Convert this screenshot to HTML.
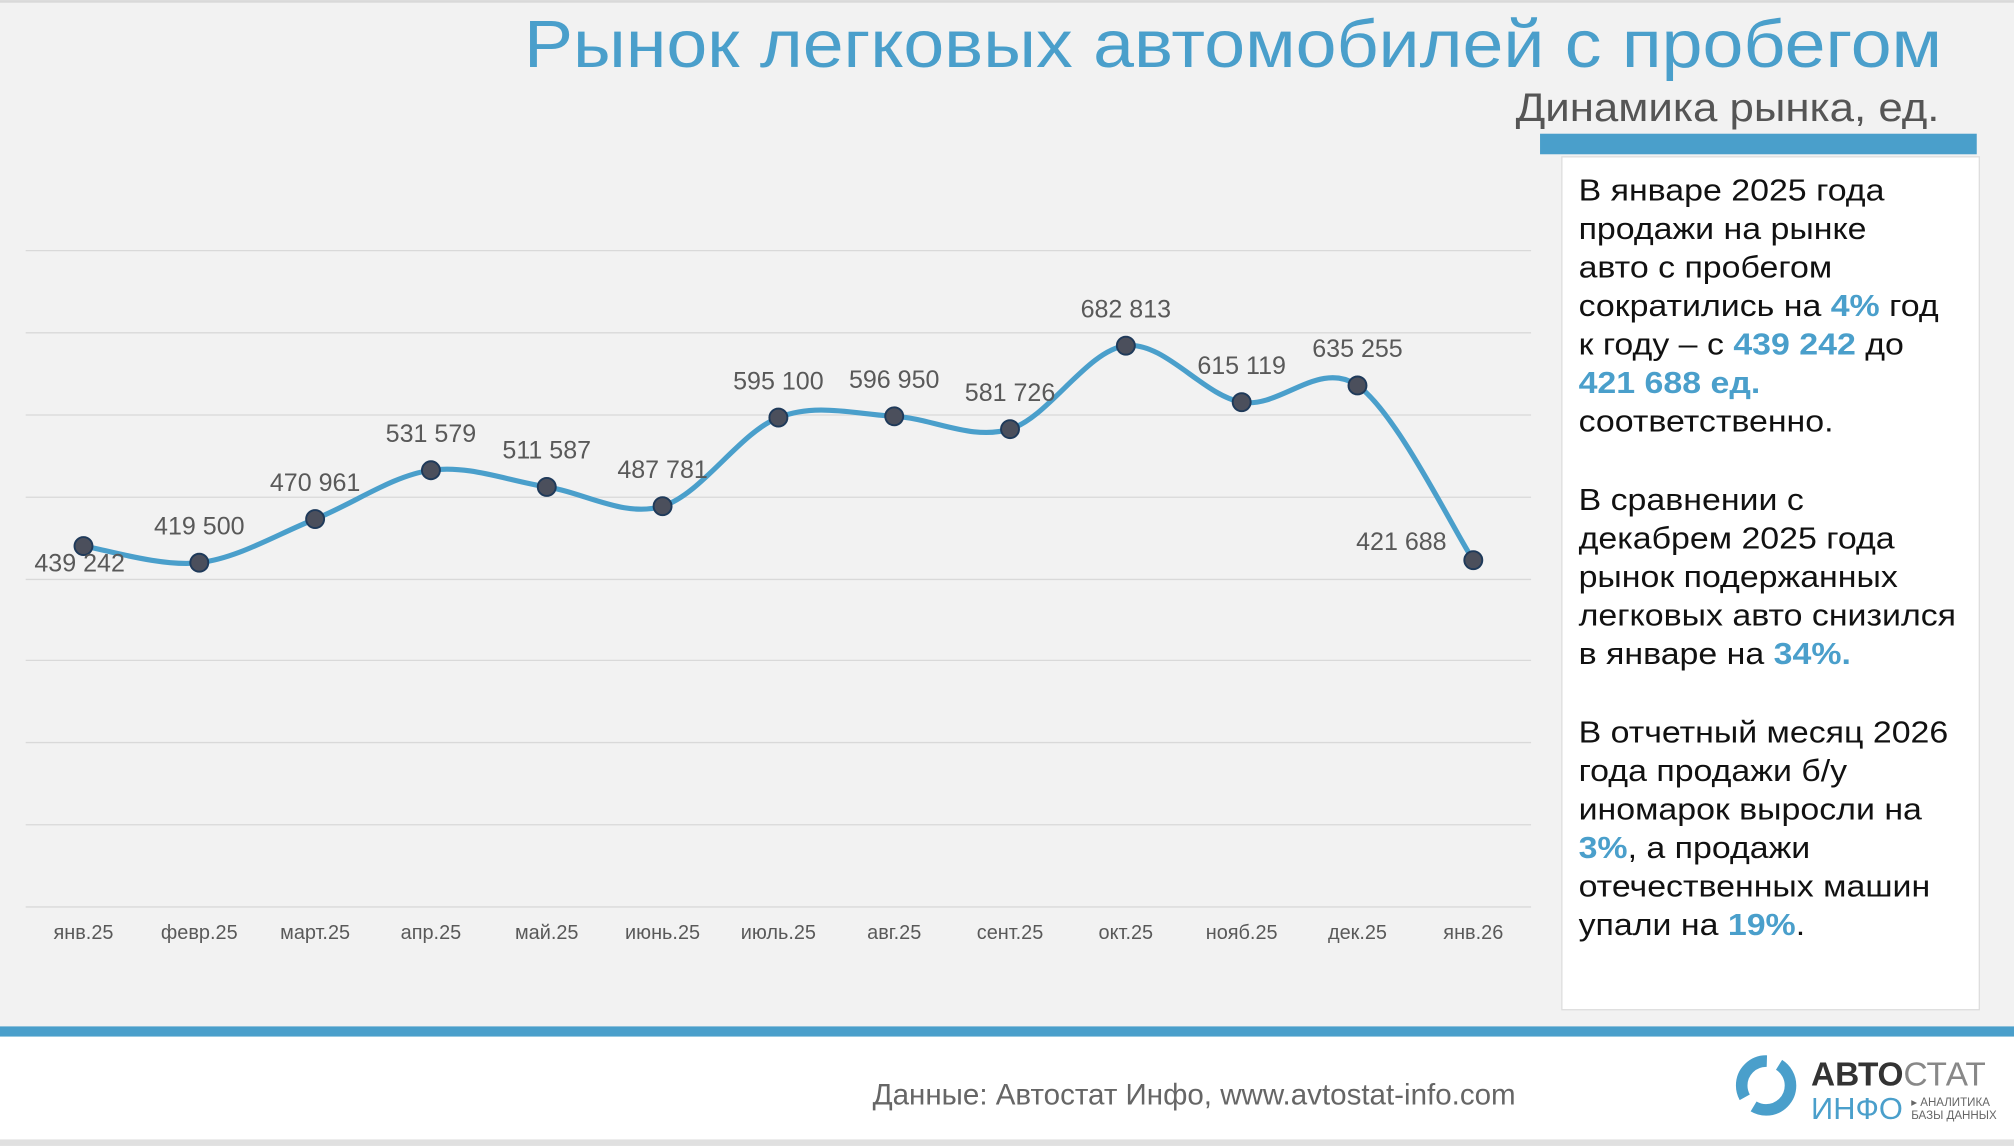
<!DOCTYPE html>
<html><head><meta charset="utf-8"><style>
html,body{margin:0;padding:0;background:#f2f2f2}
svg{display:block}
text{font-family:"Liberation Sans","DejaVu Sans",sans-serif}
</style></head><body>
<svg id="s" width="2014" height="1146" viewBox="0 0 1568 892" xmlns="http://www.w3.org/2000/svg">
<rect width="1568" height="892" fill="#f2f2f2"/>
<rect width="1568" height="2" fill="#d9d9d9"/>
<text x="1512" y="52" text-anchor="end" font-size="52" fill="#4a9fcb" textLength="1104" lengthAdjust="spacingAndGlyphs">Рынок легковых автомобилей с пробегом</text>
<text x="1510" y="94" text-anchor="end" font-size="31" fill="#555" textLength="330" lengthAdjust="spacingAndGlyphs">Динамика рынка, ед.</text>
<rect x="1199" y="104" width="340" height="16" fill="#4a9fcb"/>
<g stroke="#d9d9d9" stroke-width="1">
<line x1="20" x2="1192" y1="195" y2="195"/><line x1="20" x2="1192" y1="259" y2="259"/>
<line x1="20" x2="1192" y1="323" y2="323"/><line x1="20" x2="1192" y1="387" y2="387"/>
<line x1="20" x2="1192" y1="451" y2="451"/><line x1="20" x2="1192" y1="514" y2="514"/>
<line x1="20" x2="1192" y1="578" y2="578"/><line x1="20" x2="1192" y1="642" y2="642"/>
<line x1="20" x2="1192" y1="706" y2="706"/>
</g>
<path id="curve" fill="none" stroke="#4a9fcb" stroke-width="4"/>
<g id="pts"></g>
<g id="lbl" font-size="19.5" fill="#595959" text-anchor="middle"></g>
<g id="ax" font-size="15.5" fill="#595959" text-anchor="middle"></g>
<rect x="1216" y="122" width="325" height="664" fill="#fff" stroke="#ddd"/>
<g font-size="24" fill="#111" transform="translate(1229 0) scale(1.1 1) translate(-1229 0)">
<text x="1229" y="156">В январе 2025 года</text>
<text x="1229" y="186">продажи на рынке</text>
<text x="1229" y="216">авто с пробегом</text>
<text x="1229" y="246">сократились на <tspan fill="#4a9fcb" font-weight="bold">4%</tspan> год</text>
<text x="1229" y="276">к году – с <tspan fill="#4a9fcb" font-weight="bold">439 242</tspan> до</text>
<text x="1229" y="306" fill="#4a9fcb" font-weight="bold">421 688 ед.</text>
<text x="1229" y="336">соответственно.</text>
<text x="1229" y="397">В сравнении с</text>
<text x="1229" y="427">декабрем 2025 года</text>
<text x="1229" y="457">рынок подержанных</text>
<text x="1229" y="487">легковых авто снизился</text>
<text x="1229" y="517">в январе на <tspan fill="#4a9fcb" font-weight="bold">34%.</tspan></text>
<text x="1229" y="578">В отчетный месяц 2026</text>
<text x="1229" y="608">года продажи б/у</text>
<text x="1229" y="638">иномарок выросли на</text>
<text x="1229" y="668"><tspan fill="#4a9fcb" font-weight="bold">3%</tspan>, а продажи</text>
<text x="1229" y="698">отечественных машин</text>
<text x="1229" y="728">упали на <tspan fill="#4a9fcb" font-weight="bold">19%</tspan>.</text>
</g>
<rect x="0" y="799" width="1568" height="8" fill="#4a9fcb"/>
<rect x="0" y="807" width="1568" height="80" fill="#fff"/>
<rect x="0" y="887" width="1568" height="5" fill="#e0e0e0"/>
<text x="1180" y="860" text-anchor="end" font-size="23" fill="#666">Данные: Автостат Инфо, www.avtostat-info.com</text>
<circle cx="1375" cy="845" r="19" fill="none" stroke="#4a9fcb" stroke-width="9" stroke-dasharray="40 10"/>
<text x="1410" y="845" font-size="26" font-weight="bold" fill="#333">АВТО<tspan fill="#888" font-weight="normal">СТАТ</tspan></text>
<text x="1410" y="871" font-size="24" fill="#4a9fcb">ИНФО</text>
<text x="1488" y="861" font-size="9" fill="#666">▸ АНАЛИТИКА</text>
<text x="1488" y="871" font-size="9" fill="#666">БАЗЫ ДАННЫХ</text>
</svg>
<script>
var xs=[],ys=[425,438,404,366,379,394,325,324,334,269,313,300,436];
var L=["439 242","419 500","470 961","531 579","511 587","487 781","595 100","596 950","581 726","682 813","615 119","635 255","421 688"];
var A=["янв.25","февр.25","март.25","апр.25","май.25","июнь.25","июль.25","авг.25","сент.25","окт.25","нояб.25","дек.25","янв.26"];
for(var i=0;i<13;i++)xs.push(65+i*90.17);
var d="M"+xs[0]+","+ys[0];
for(var i=0;i<12;i++){var p0=i?i-1:0,p3=i+2<13?i+2:12,t=6;
d+=" C"+(xs[i]+(xs[i+1]-xs[p0])/t)+","+(ys[i]+(ys[i+1]-ys[p0])/t)+" "+(xs[i+1]-(xs[p3]-xs[i])/t)+","+(ys[i+1]-(ys[p3]-ys[i])/t)+" "+xs[i+1]+","+ys[i+1];}
document.getElementById("curve").setAttribute("d",d);
var ns="http://www.w3.org/2000/svg",g=document.getElementById("pts"),lb=document.getElementById("lbl"),ax=document.getElementById("ax");
for(var i=0;i<13;i++){var c=document.createElementNS(ns,"circle");c.setAttribute("cx",xs[i]);c.setAttribute("cy",ys[i]);c.setAttribute("r",7);c.setAttribute("fill","#4b4f5c");c.setAttribute("stroke","#1f3a5a");c.setAttribute("stroke-width","1.5");g.appendChild(c);
var t=document.createElementNS(ns,"text");var lx=xs[i],ly=ys[i]-22;if(i==0){ly=ys[i]+20;lx=62}if(i==12){lx=xs[i]-56;ly=ys[i]-8}
t.setAttribute("x",lx);t.setAttribute("y",ly);t.textContent=L[i];lb.appendChild(t);
var a=document.createElementNS(ns,"text");a.setAttribute("x",xs[i]);a.setAttribute("y",731);a.textContent=A[i];ax.appendChild(a);}
</script>
</body></html>
